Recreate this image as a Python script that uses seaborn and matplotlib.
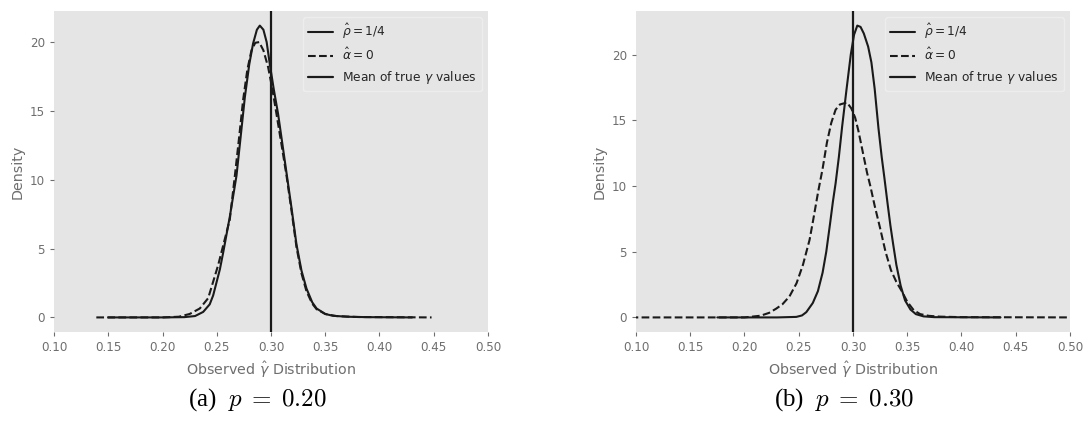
import matplotlib
matplotlib.use("Agg")
import matplotlib.pyplot as plt
import seaborn as sns

# ---------------- data ----------------
# panel (a): p = 0.20
a_rho_x = [0.150, 0.200, 0.220, 0.230, 0.2375, 0.2435, 0.2467, 0.2529, 0.2559, 0.2620,
           0.2682, 0.2720, 0.2759, 0.2800, 0.2835, 0.2870, 0.2897, 0.2930, 0.2960, 0.2989,
           0.3025, 0.3065, 0.3105, 0.3143, 0.3190, 0.3235, 0.3281, 0.3327, 0.3380, 0.3420,
           0.3500, 0.3570, 0.3700, 0.3880, 0.4300]
a_rho_y = [0.00, 0.00, 0.02, 0.10, 0.40, 0.95, 1.60, 3.50, 4.70, 7.30,
           10.3, 13.1, 16.0, 18.4, 19.9, 20.9, 21.2, 20.9, 20.0, 18.4,
           16.6, 14.8, 12.6, 10.5, 7.9, 5.3, 3.4, 2.1, 1.1, 0.65,
           0.25, 0.12, 0.05, 0.02, 0.00]

a_alpha_x = [0.139, 0.200, 0.215, 0.225, 0.2344, 0.2421, 0.2513, 0.2620, 0.2667, 0.2705,
             0.2743, 0.2782, 0.2820, 0.2855, 0.2891, 0.2930, 0.2973, 0.3010, 0.3050, 0.3100,
             0.3143, 0.3190, 0.3235, 0.3281, 0.3327, 0.3380, 0.3420, 0.3500, 0.3600, 0.3800,
             0.4480]
a_alpha_y = [0.00, 0.00, 0.05, 0.25, 0.65, 1.4, 3.8, 7.1, 10.3, 13.0,
             15.8, 18.0, 19.4, 19.95, 20.0, 19.4, 18.2, 16.7, 14.8, 12.4,
             10.3, 7.7, 5.1, 3.2, 1.9, 1.0, 0.6, 0.25, 0.10, 0.03,
             0.00]

# panel (b): p = 0.30
b_rho_x = [0.175, 0.230, 0.2478, 0.2530, 0.2570, 0.2630, 0.2677, 0.2720, 0.2754, 0.2790,
           0.2815, 0.2840, 0.2870, 0.2900, 0.2940, 0.2980, 0.3010, 0.3040, 0.3070, 0.3100,
           0.3140, 0.3170, 0.3200, 0.3235, 0.3265, 0.3290, 0.3320, 0.3345, 0.3370, 0.3400,
           0.3440, 0.3480, 0.3530, 0.3580, 0.3650, 0.3750, 0.4360]
b_rho_y = [0.00, 0.00, 0.04, 0.15, 0.40, 1.1, 2.0, 3.4, 5.0, 7.2,
           8.8, 10.2, 12.2, 14.5, 17.3, 20.0, 21.5, 22.2, 22.1, 21.6,
           20.6, 19.4, 17.4, 14.4, 12.2, 10.6, 8.6, 7.0, 5.6, 4.0,
           2.4, 1.3, 0.6, 0.25, 0.08, 0.02, 0.00]

b_alpha_x = [0.095, 0.200, 0.2149, 0.2228, 0.2293, 0.2350, 0.2415, 0.2480, 0.2539, 0.2600,
             0.2631, 0.2680, 0.2720, 0.2760, 0.2800, 0.2840, 0.2880, 0.2945, 0.2985, 0.3020,
             0.3050, 0.3090, 0.3130, 0.3160, 0.3200, 0.3250, 0.3300, 0.3350, 0.3400, 0.3450,
             0.3500, 0.3560, 0.3620, 0.3700, 0.3800, 0.4000, 0.5050]
b_alpha_y = [0.00, 0.00, 0.13, 0.35, 0.67, 1.0, 1.6, 2.6, 4.0, 5.9,
             7.3, 9.6, 11.3, 13.3, 14.8, 15.8, 16.2, 16.35, 15.9, 15.2,
             14.2, 12.6, 11.0, 10.0, 8.5, 6.8, 5.0, 3.6, 2.7, 2.0,
             1.2, 0.55, 0.25, 0.12, 0.06, 0.02, 0.00]

true_gamma_mean = 0.30
x_ticks = [0.10, 0.15, 0.20, 0.25, 0.30, 0.35, 0.40, 0.45, 0.50]
y_ticks = [0, 5, 10, 15, 20]
captions = [r"(a)  $p\;=\;0.20$", r"(b)  $p\;=\;0.30$"]
labels = [r"$\hat{\rho} = 1/4$", r"$\hat{\alpha} = 0$", r"Mean of true $\gamma$ values"]

# ---------------- style ----------------
sns.set_theme(style="dark", rc={
    "axes.facecolor": "#E5E5E5",
    "axes.edgecolor": "#E5E5E5",
    "axes.grid": False,
    "axes.labelcolor": "#6e6e6e",
    "xtick.color": "#6e6e6e",
    "ytick.color": "#6e6e6e",
    "xtick.bottom": True,
    "ytick.left": True,
    "xtick.direction": "out",
    "ytick.direction": "out",
    "xtick.major.size": 3,
    "ytick.major.size": 3,
    "xtick.major.width": 0.8,
    "ytick.major.width": 0.8,
    "font.size": 8.6,
    "xtick.labelsize": 8.6,
    "ytick.labelsize": 8.6,
    "axes.labelsize": 10.3,
    "legend.fontsize": 8.8,
})
plt.rcParams["font.family"] = ["DejaVu Sans"]

fig = plt.figure(figsize=(10.89, 4.23), dpi=100)
ax_a = fig.add_axes([0.0496, 0.2151, 0.3985, 0.7589])
ax_b = fig.add_axes([0.5840, 0.2151, 0.3985, 0.7589])

panels = [
    (ax_a, a_rho_x, a_rho_y, a_alpha_x, a_alpha_y),
    (ax_b, b_rho_x, b_rho_y, b_alpha_x, b_alpha_y),
]

for ax, rx, ry, ax_x, ax_y in panels:
    sns.lineplot(x=rx, y=ry, ax=ax, color="#1a1a1a", lw=1.5, sort=False,
                 estimator=None, label=labels[0])
    sns.lineplot(x=ax_x, y=ax_y, ax=ax, color="#1a1a1a", lw=1.5, sort=False,
                 estimator=None, linestyle="--", label=labels[1])
    ax.axvline(true_gamma_mean, color="#1a1a1a", lw=1.6, label=labels[2])
    ax.set_xlim(0.10, 0.50)
    ax.set_xticks(x_ticks)
    ax.set_xticklabels([f"{t:.2f}" for t in x_ticks])
    ax.set_yticks(y_ticks)
    ax.set_xlabel(r"Observed $\hat{\gamma}$ Distribution")
    ax.set_ylabel("Density")
    for s in ax.spines.values():
        s.set_visible(False)
    leg = ax.legend(loc="upper right", frameon=True, fancybox=True)
    leg.get_frame().set_facecolor("#E5E5E5")
    leg.get_frame().set_edgecolor("#F0F0F0")

# sub-captions like the LaTeX subfigure labels
fig.text(257 / 1089, 0.055, captions[0], ha="center", va="center", fontsize=18,
         family="Liberation Serif", math_fontfamily="cm", color="black")
fig.text(844 / 1089, 0.055, captions[1], ha="center", va="center", fontsize=18,
         family="Liberation Serif", math_fontfamily="cm", color="black")

fig.savefig("out.png", dpi=100)
